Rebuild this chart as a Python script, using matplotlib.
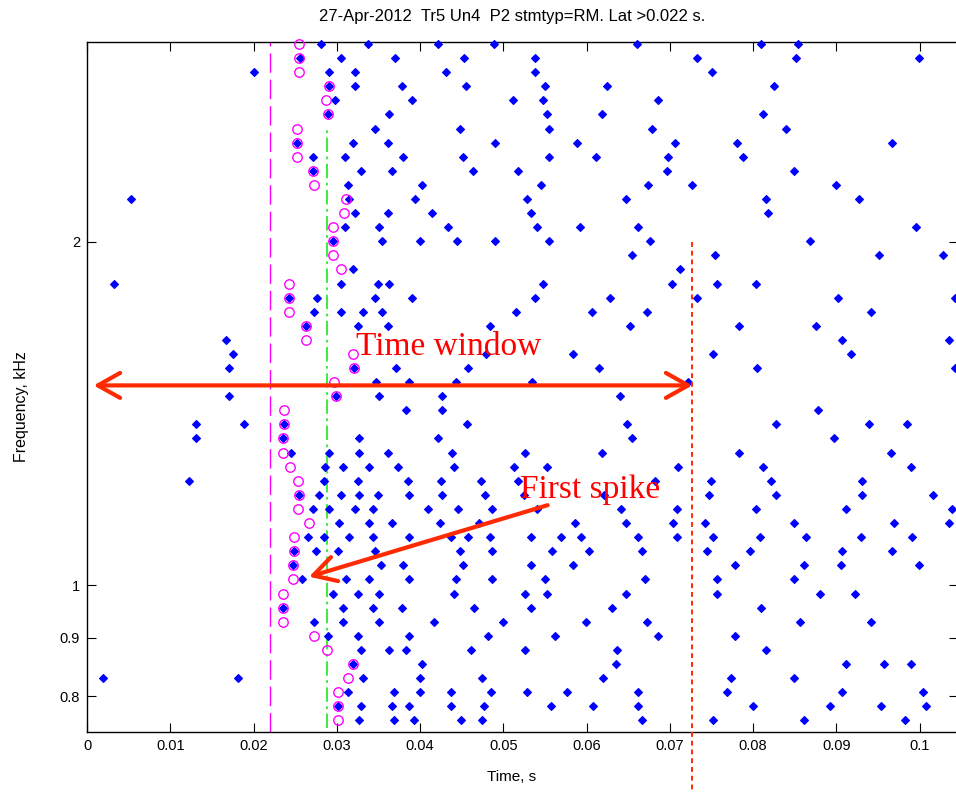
import matplotlib
matplotlib.use("Agg")
import matplotlib.pyplot as plt

# ---------------- data ----------------
# stimulus frequency levels (kHz), index 0 = lowest row
FREQ_LEVELS_KHZ = [
    0.7617, 0.7838, 0.8063, 0.8296, 0.8535, 0.8781, 0.9034, 0.9295, 0.9563, 0.9838,
    1.0122, 1.0414, 1.0714, 1.1023, 1.1341, 1.1668, 1.2004, 1.2350, 1.2706, 1.3073,
    1.3450, 1.3837, 1.4236, 1.4647, 1.5069, 1.5503, 1.5950, 1.6410, 1.6883, 1.7370,
    1.7871, 1.8386, 1.8916, 1.9461, 2.0023, 2.0600, 2.1194, 2.1805, 2.2433, 2.3080,
    2.3746, 2.4430, 2.5135, 2.5860, 2.6606, 2.7373, 2.8162, 2.8974, 2.9809,
]

# spike times (s) for each frequency level (same index as FREQ_LEVELS_KHZ)
SPIKE_TIMES_BY_LEVEL = [
    [0.0327, 0.0369, 0.0393, 0.0449, 0.0474, 0.0666, 0.0752, 0.0861, 0.0982],                      # 0
    [0.0301, 0.0329, 0.0366, 0.0387, 0.0437, 0.0477, 0.0557, 0.0608, 0.0662, 0.0800, 0.0892, 0.0954, 0.1007],  # 1
    [0.0314, 0.0369, 0.0400, 0.0437, 0.0485, 0.0529, 0.0577, 0.0662, 0.0768, 0.0907, 0.1004],      # 2
    [0.0019, 0.0181, 0.0332, 0.0400, 0.0474, 0.0620, 0.0773, 0.0849],                              # 3
    [0.0320, 0.0402, 0.0635, 0.0911, 0.0957, 0.0990],                                              # 4
    [0.0329, 0.0363, 0.0383, 0.0461, 0.0526, 0.0637, 0.0815],                                      # 5
    [0.0289, 0.0325, 0.0387, 0.0482, 0.0562, 0.0686, 0.0778],                                      # 6
    [0.0273, 0.0307, 0.0351, 0.0417, 0.0499, 0.0599, 0.0672, 0.0856, 0.0941],                      # 7
    [0.0235, 0.0307, 0.0344, 0.0378, 0.0465, 0.0533, 0.0630, 0.0810],                              # 8
    [0.0295, 0.0325, 0.0351, 0.0441, 0.0526, 0.0553, 0.0647, 0.0756, 0.0880, 0.0922],              # 9
    [0.0258, 0.0311, 0.0339, 0.0387, 0.0443, 0.0486, 0.0550, 0.0670, 0.0756, 0.0849],              # 10
    [0.0247, 0.0353, 0.0380, 0.0452, 0.0533, 0.0584, 0.0778, 0.0861, 0.0905, 0.0999],              # 11
    [0.0249, 0.0275, 0.0301, 0.0346, 0.0448, 0.0486, 0.0559, 0.0603, 0.0666, 0.0744, 0.0796, 0.0907, 0.0967],  # 12
    [0.0266, 0.0285, 0.0315, 0.0344, 0.0387, 0.0437, 0.0458, 0.0484, 0.0533, 0.0569, 0.0593, 0.0662,
     0.0708, 0.0752, 0.0808, 0.0864, 0.0929, 0.0991],                                              # 13
    [0.0303, 0.0339, 0.0366, 0.0424, 0.0471, 0.0586, 0.0647, 0.0704, 0.0742, 0.0849, 0.0969, 0.1035],  # 14
    [0.0271, 0.0291, 0.0322, 0.0344, 0.0409, 0.0446, 0.0486, 0.0541, 0.0641, 0.0708, 0.0803, 0.0912, 0.1039],  # 15
    [0.0254, 0.0279, 0.0305, 0.0327, 0.0349, 0.0387, 0.0426, 0.0478, 0.0525, 0.0621, 0.0747, 0.0827,
     0.0931, 0.1016],                                                                              # 16
    [0.0123, 0.0285, 0.0325, 0.0385, 0.0425, 0.0473, 0.0517, 0.0682, 0.0749, 0.0822, 0.0931],      # 17
    [0.0286, 0.0307, 0.0339, 0.0373, 0.0441, 0.0513, 0.0552, 0.0710, 0.0812, 0.0989],              # 18
    [0.0245, 0.0291, 0.0327, 0.0361, 0.0438, 0.0526, 0.0618, 0.0783, 0.0965],                      # 19
    [0.0131, 0.0235, 0.0327, 0.0422, 0.0654, 0.0897],                                              # 20
    [0.0131, 0.0189, 0.0236, 0.0456, 0.0649, 0.0827, 0.0939, 0.0985],                              # 21
    [0.0383, 0.0426, 0.0878],                                                                      # 22
    [0.0171, 0.0299, 0.0351, 0.0426, 0.0640],                                                      # 23
    [0.0347, 0.0387, 0.0443, 0.0535, 0.0722],                                                      # 24
    [0.0171, 0.0321, 0.0371, 0.0458, 0.0615, 0.0805, 0.1042],                                      # 25
    [0.0175, 0.0479, 0.0584, 0.0752, 0.0917],                                                      # 26
    [0.0167, 0.0907, 0.1035],                                                                      # 27
    [0.0263, 0.0325, 0.0361, 0.0484, 0.0652, 0.0783, 0.0875],                                      # 28
    [0.0273, 0.0305, 0.0332, 0.0354, 0.0515, 0.0606, 0.0672, 0.0941],                              # 29
    [0.0242, 0.0276, 0.0346, 0.0390, 0.0538, 0.0628, 0.0733, 0.0902, 0.1042],                      # 30
    [0.0033, 0.0305, 0.0349, 0.0363, 0.0548, 0.0703, 0.0756, 0.0803],                              # 31
    [0.0320, 0.0712],                                                                              # 32
    [0.0654, 0.0754, 0.0951, 0.1028],                                                              # 33
    [0.0295, 0.0354, 0.0400, 0.0444, 0.0490, 0.0555, 0.0676, 0.0868],                              # 34
    [0.0310, 0.0351, 0.0434, 0.0541, 0.0592, 0.0662, 0.0995],                                      # 35
    [0.0322, 0.0361, 0.0414, 0.0533, 0.0818],                                                      # 36
    [0.0053, 0.0315, 0.0394, 0.0529, 0.0647, 0.0815, 0.0927],                                      # 37
    [0.0313, 0.0402, 0.0545, 0.0674, 0.0726, 0.0900],                                              # 38
    [0.0272, 0.0329, 0.0366, 0.0464, 0.0518, 0.0696, 0.0849],                                      # 39
    [0.0271, 0.0310, 0.0380, 0.0452, 0.0555, 0.0611, 0.0698, 0.0788],                              # 40
    [0.0252, 0.0319, 0.0361, 0.0490, 0.0589, 0.0706, 0.0780, 0.0967],                              # 41
    [0.0346, 0.0448, 0.0555, 0.0679, 0.0839],                                                      # 42
    [0.0289, 0.0363, 0.0552, 0.0618, 0.0812],                                                      # 43
    [0.0298, 0.0390, 0.0511, 0.0548, 0.0686],                                                      # 44
    [0.0291, 0.0322, 0.0378, 0.0455, 0.0550, 0.0625, 0.0825],                                      # 45
    [0.0201, 0.0291, 0.0322, 0.0431, 0.0538, 0.0750],                                              # 46
    [0.0256, 0.0305, 0.0370, 0.0453, 0.0538, 0.0732, 0.0851, 0.0999],                              # 47
    [0.0281, 0.0337, 0.0421, 0.0489, 0.0660, 0.0810, 0.0854],                                      # 48
]

# first spike markers (level index, time s)
FIRST_SPIKE_LEVEL = [48, 47, 46, 45, 44, 43, 42, 41, 40, 39, 38, 37, 36, 35, 34, 33, 32,
                     31, 30, 29, 28, 27, 26, 25, 24, 23, 22, 21, 20, 19, 18, 17, 16,
                     15, 14, 13, 12, 11, 10, 9, 8, 7, 6, 5, 4, 3, 2, 1, 0]
FIRST_SPIKE_TIME = [0.0255, 0.0255, 0.0255, 0.0291, 0.0287, 0.0289, 0.0252, 0.0252, 0.0252,
                    0.0272, 0.0273, 0.0311, 0.0309, 0.0295, 0.0295, 0.0295, 0.0305,
                    0.0242, 0.0242, 0.0242, 0.0263, 0.0263, 0.0319, 0.0321, 0.0297, 0.0299,
                    0.0237, 0.0236, 0.0235, 0.0235, 0.0244, 0.0253, 0.0254,
                    0.0253, 0.0267, 0.0249, 0.0249, 0.0247, 0.0247, 0.0235, 0.0235, 0.0235,
                    0.0273, 0.0288, 0.0320, 0.0313, 0.0301, 0.0301, 0.0301]

LATENCY_MIN = 0.022       # magenta dashed line
MEDIAN_FIRST = 0.0288     # green dash-dot line
WINDOW_END = 0.0726       # red dotted line / arrow end
WINDOW_START = 0.0008

X_TICKS = [0, 0.01, 0.02, 0.03, 0.04, 0.05, 0.06, 0.07, 0.08, 0.09, 0.1]
X_TICK_LABELS = ["0", "0.01", "0.02", "0.03", "0.04", "0.05", "0.06", "0.07", "0.08", "0.09", "0.1"]
Y_TICKS = [0.8, 0.9, 1, 2]
Y_TICK_LABELS = ["0.8", "0.9", "1", "2"]

TITLE = "27-Apr-2012  Tr5 Un4  P2 stmtyp=RM. Lat >0.022 s."

# ---------------- plot ----------------
W, H = 956, 792
fig = plt.figure(figsize=(W / 100, H / 100), dpi=100)
ax = fig.add_axes([87 / W, 60 / H, 871 / W, 689.7 / H])
ax.set_yscale("log")
ax.set_xlim(0, 0.1046)
ax.set_ylim(0.744, 2.991)

xs, ys = [], []
for lvl, times in enumerate(SPIKE_TIMES_BY_LEVEL):
    for t in times:
        xs.append(t)
        ys.append(FREQ_LEVELS_KHZ[lvl])
ax.plot(xs, ys, ls="none", marker="D", ms=4.3, color="#0000ff", mec="#0000ff",
        mew=0.8, clip_on=False, zorder=3)

cf = [FREQ_LEVELS_KHZ[l] for l in FIRST_SPIKE_LEVEL]
ax.plot(FIRST_SPIKE_TIME, cf, ls="none", marker="o", ms=6.8, mfc="none",
        mec="#ff00ff", mew=1.0, clip_on=False, zorder=4)

ax.axvline(LATENCY_MIN, color="#ff00ff", lw=1.0, dashes=(14, 5), zorder=2)
ax.plot([MEDIAN_FIRST, MEDIAN_FIRST], [0.75, 2.51], color="#2ee82e", lw=1.3,
        dashes=(8, 2.5, 1.5, 2.5), zorder=2)

RED = "#ff2a00"
ax.plot([WINDOW_END, WINDOW_END], [2.0, 0.655], color=RED, lw=1.4, dashes=(2.5, 2),
        clip_on=False, zorder=5)

ax.annotate("", xy=(WINDOW_END + 0.0001, 1.497), xytext=(WINDOW_START, 1.497),
            arrowprops=dict(arrowstyle="<->,head_length=0.8,head_width=0.45", lw=3,
                            color=RED, shrinkA=0, shrinkB=0, mutation_scale=20),
            zorder=6)
ax.annotate("", xy=(0.02668, 1.0177), xytext=(0.05532, 1.1757),
            arrowprops=dict(arrowstyle="->,head_length=0.8,head_width=0.45", lw=3,
                            color=RED, shrinkA=0, shrinkB=0, mutation_scale=20),
            zorder=6)
ax.text(0.0323, 1.592, "Time window", color="#ff0000", fontsize=24,
        family="Liberation Serif", ha="left", va="baseline", zorder=6)
ax.text(0.0520, 1.193, "First spike", color="#ff0000", fontsize=24,
        family="Liberation Serif", ha="left", va="baseline", zorder=6)

ax.set_xticks(X_TICKS)
ax.set_xticklabels(X_TICK_LABELS)
ax.set_yticks(Y_TICKS)
ax.set_yticklabels(Y_TICK_LABELS)
ax.minorticks_off()
ax.tick_params(direction="in", length=6.5, width=0.8, top=True, right=True,
               labelsize=10.5, pad=5)
for lab in ax.get_xticklabels() + ax.get_yticklabels():
    lab.set_family("Liberation Sans")
for s in ax.spines.values():
    s.set_linewidth(1.0)

fig.text(512 / W, 1 - 17 / H, TITLE, ha="center", va="center", fontsize=12,
         family="Liberation Sans")
fig.text(512 / W, 1 - 777 / H, "Time, s", ha="center", va="center", fontsize=11,
         family="Liberation Sans")
fig.text(22 / W, 1 - 407 / H, "Frequency, kHz", ha="center", va="center", fontsize=11.5,
         rotation=90, family="Liberation Sans")

fig.savefig("out.png", dpi=100)
